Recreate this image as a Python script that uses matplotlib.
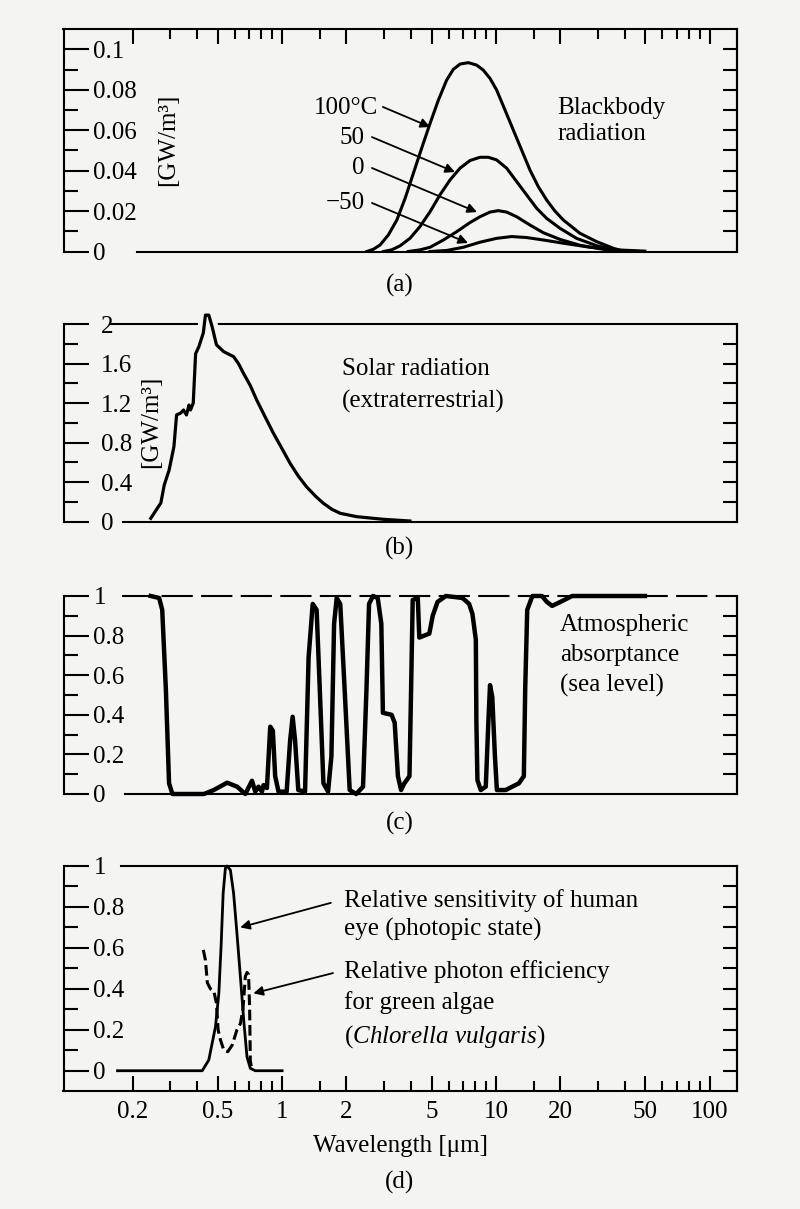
import numpy as np
import matplotlib.pyplot as plt
from matplotlib.ticker import NullFormatter

# values (wavelength in um)
bb_100 = [(2.49, 0), (2.67, 0.0011), (2.87, 0.0032), (3.14, 0.0082), (3.44, 0.0156), (3.76, 0.0263),
          (4.11, 0.0387), (4.49, 0.0510), (4.92, 0.0634), (5.38, 0.0749), (5.88, 0.0848), (6.32, 0.0901),
          (6.79, 0.0927), (7.43, 0.0934), (8.12, 0.0922), (8.73, 0.0897), (9.38, 0.0856), (10.07, 0.0799),
          (11.02, 0.0700), (12.05, 0.0601), (13.18, 0.0502), (14.42, 0.0403), (15.77, 0.0321),
          (17.25, 0.0255), (18.87, 0.0200), (20.64, 0.0156), (24.70, 0.0090), (29.54, 0.0049),
          (35.34, 0.0016), (39.36, 0.0002)]
bb_50 = [(2.98, 0), (3.25, 0.0008), (3.56, 0.0028), (3.96, 0.0065), (4.41, 0.0123), (4.92, 0.0197),
         (5.47, 0.0280), (6.10, 0.0354), (6.79, 0.0412), (7.56, 0.0450), (8.42, 0.0466), (9.21, 0.0466),
         (10.07, 0.0453), (11.22, 0.0412), (12.49, 0.0346), (13.91, 0.0280), (15.49, 0.0214),
         (17.25, 0.0164), (19.91, 0.0115), (23.82, 0.0065), (29.54, 0.0029), (36.64, 0.0005), (39.36, 0)]
bb_0 = [(3.89, 0), (4.41, 0.0008), (4.92, 0.0021), (5.68, 0.0057), (6.55, 0.0098), (7.56, 0.0143),
        (8.42, 0.0172), (9.38, 0.0195), (10.25, 0.0202), (11.22, 0.0195), (12.49, 0.0172), (14.42, 0.0131),
        (16.64, 0.0093), (19.91, 0.0060), (24.70, 0.0031), (31.74, 0.0011), (39.36, 0.0002)]
bb_m50 = [(4.92, 0), (5.88, 0.0005), (7.04, 0.0021), (8.42, 0.0046), (10.07, 0.0065), (11.84, 0.0074),
          (13.91, 0.0069), (16.64, 0.0057), (20.64, 0.0041), (27.50, 0.0021), (36.64, 0.0008), (49.69, 0.0002)]

solar = [(0.243, 0.034), (0.271, 0.19), (0.281, 0.37), (0.296, 0.52), (0.312, 0.76), (0.321, 1.08),
         (0.336, 1.10), (0.346, 1.13), (0.357, 1.08), (0.367, 1.18), (0.373, 1.13), (0.384, 1.20),
         (0.394, 1.70), (0.408, 1.77), (0.428, 1.91), (0.438, 2.09), (0.454, 2.09), (0.471, 1.97),
         (0.493, 1.79), (0.533, 1.72), (0.593, 1.67), (0.625, 1.60), (0.660, 1.50), (0.709, 1.38),
         (0.761, 1.23), (0.833, 1.06), (0.911, 0.894), (0.997, 0.742), (1.09, 0.590), (1.19, 0.462),
         (1.30, 0.354), (1.43, 0.260), (1.56, 0.186), (1.71, 0.125), (1.87, 0.085), (2.23, 0.051),
         (2.98, 0.024), (3.96, 0.007)]

atm = [(0.243, 1.0), (0.266, 0.99), (0.275, 0.93), (0.286, 0.53), (0.296, 0.054), (0.307, 0.0),
       (0.431, 0.0), (0.479, 0.02), (0.553, 0.057), (0.616, 0.037), (0.673, 0.0), (0.723, 0.067),
       (0.749, 0.012), (0.776, 0.037), (0.805, 0.012), (0.819, 0.045), (0.849, 0.03), (0.88, 0.34),
       (0.905, 0.32), (0.928, 0.09), (0.962, 0.012), (1.05, 0.012), (1.09, 0.27), (1.12, 0.39),
       (1.15, 0.27), (1.19, 0.02), (1.28, 0.012), (1.33, 0.69), (1.39, 0.96), (1.45, 0.93),
       (1.50, 0.53), (1.56, 0.054), (1.64, 0.012), (1.70, 0.19), (1.75, 0.86), (1.80, 0.99),
       (1.87, 0.96), (1.96, 0.53), (2.07, 0.02), (2.22, 0.0), (2.39, 0.037), (2.48, 0.53),
       (2.55, 0.96), (2.66, 1.0), (2.80, 0.99), (2.91, 0.86), (2.96, 0.41), (3.25, 0.40),
       (3.36, 0.36), (3.48, 0.09), (3.60, 0.02), (3.73, 0.054), (3.94, 0.09), (4.01, 0.53),
       (4.08, 0.98), (4.31, 0.99), (4.38, 0.79), (4.62, 0.80), (4.88, 0.81), (5.06, 0.90),
       (5.33, 0.97), (5.83, 1.0), (6.97, 0.99), (7.49, 0.96), (7.76, 0.91), (8.05, 0.78),
       (8.10, 0.36), (8.19, 0.07), (8.49, 0.02), (8.96, 0.037), (9.21, 0.36), (9.38, 0.55),
       (9.61, 0.49), (9.89, 0.19), (10.1, 0.02), (11.1, 0.02), (12.8, 0.054), (13.5, 0.09),
       (13.7, 0.53), (14.0, 0.93), (14.8, 1.0), (16.4, 1.0), (17.3, 0.97), (18.3, 0.95),
       (20.0, 0.97), (22.7, 1.0), (49.7, 1.0)]

eye = [(0.17, 0), (0.423, 0), (0.454, 0.052), (0.488, 0.215), (0.506, 0.378), (0.519, 0.622),
       (0.530, 0.867), (0.543, 0.99), (0.553, 1.0), (0.573, 0.98), (0.593, 0.867), (0.615, 0.67),
       (0.638, 0.46), (0.661, 0.25), (0.685, 0.068), (0.710, 0.012), (0.749, 0), (1.0, 0)]
algae = [(0.428, 0.59), (0.438, 0.54), (0.447, 0.43), (0.462, 0.40), (0.479, 0.39), (0.493, 0.33),
         (0.502, 0.20), (0.515, 0.15), (0.534, 0.10), (0.557, 0.093), (0.584, 0.125), (0.615, 0.20),
         (0.638, 0.23), (0.656, 0.30), (0.673, 0.46), (0.685, 0.48), (0.697, 0.47), (0.705, 0.30),
         (0.710, 0.05), (0.723, 0.0)]

wl_major = [0.2, 0.5, 1, 2, 5, 10, 20, 50, 100]
wl_labels = ['0.2', '0.5', '1', '2', '5', '10', '20', '50', '100']
wl_minor = [0.3, 0.4, 0.6, 0.7, 0.8, 0.9, 1.5, 3, 4, 6, 7, 8, 9, 15, 30, 40, 60, 70, 80, 90]

plt.rcParams['font.family'] = ['Liberation Serif', 'DejaVu Serif']
plt.rcParams['mathtext.fontset'] = 'custom'
plt.rcParams['mathtext.rm'] = 'Liberation Serif'
plt.rcParams['mathtext.it'] = 'Liberation Serif:italic'
plt.rcParams['font.size'] = 18

W, H = 800, 1209
bg = '#f4f4f2'
XLIM = (0.095, 134)
fig = plt.figure(figsize=(W / 100, H / 100), dpi=100, facecolor=bg)


def make_axes(top, bottom, left=63.5, right=737):
    ax = fig.add_axes([left / W, 1 - bottom / H, (right - left) / W, (bottom - top) / H])
    ax.set_facecolor(bg)
    ax.set_xscale('log')
    ax.set_xlim(*XLIM)
    for s in ax.spines.values():
        s.set_linewidth(1.5)
    ax.tick_params(axis='x', which='both', bottom=False, top=False, labelbottom=False)
    return ax


def y_ticks(ax, major, labels, minor, right, pad=-21.5):
    ax.set_yticks(major)
    ax.set_yticklabels(labels, ha='left')
    ax.set_yticks(minor, minor=True)
    ax.tick_params(axis='y', which='major', direction='in', length=18, width=1.5, pad=pad)
    ax.tick_params(axis='y', which='minor', direction='in', length=10, width=1.5)
    sec = ax.secondary_yaxis('right')
    sec.set_yticks(right)
    sec.tick_params(direction='in', length=10, width=1.5, labelright=False)
    sec.spines['right'].set_linewidth(1.5)


def x_ticks(ax, where):
    ax.set_xticks(wl_major, wl_labels if where == 'bottom' else [''] * len(wl_major))
    ax.set_xticks(wl_minor, minor=True)
    ax.xaxis.set_minor_formatter(NullFormatter())
    on_top = where == 'top'
    ax.tick_params(axis='x', which='both', direction='in', width=1.5,
                   top=on_top, bottom=not on_top, labeltop=False, labelbottom=not on_top)
    ax.tick_params(axis='x', which='major', length=11, pad=7)
    ax.tick_params(axis='x', which='minor', length=7)


def xy(pts):
    a = np.array(pts)
    return a[:, 0], a[:, 1]


arrow = dict(arrowstyle='-|>', color='k', lw=1.3, mutation_scale=14, shrinkA=0, shrinkB=0)

# (a) blackbody
ax = make_axes(29.3, 251.5)
ax.set_ylim(0, 0.1099)
y_ticks(ax, [0, 0.02, 0.04, 0.06, 0.08, 0.1], ['0', '0.02', '0.04', '0.06', '0.08', '0.1'],
        [0.01, 0.03, 0.05, 0.07, 0.09], [0.01 * i for i in range(1, 11)])
x_ticks(ax, 'top')
ax.spines['bottom'].set_bounds(0.209, XLIM[1])
for pts in (bb_100, bb_50, bb_0, bb_m50):
    ax.plot(*xy(pts), color='k', lw=2.2, solid_joinstyle='round')
ax.text(2.81, 0.071, '100°C', ha='right', va='center')
ax.text(2.44, 0.056, '50', ha='right', va='center')
ax.text(2.44, 0.0413, '0', ha='right', va='center')
ax.text(2.44, 0.024, '\u221250', ha='right', va='center')
ax.annotate('', xy=(4.92, 0.0616), xytext=(2.96, 0.0715), arrowprops=arrow)
ax.annotate('', xy=(6.43, 0.0393), xytext=(2.63, 0.0566), arrowprops=arrow)
ax.annotate('', xy=(8.15, 0.0195), xytext=(2.63, 0.0413), arrowprops=arrow)
ax.annotate('', xy=(7.40, 0.0042), xytext=(2.63, 0.024), arrowprops=arrow)
ax.text(19.3, 0.0645, 'Blackbody\nradiation', ha='left', va='center', linespacing=1.27)
fig.text(168.5 / W, 1 - 140 / H, '[GW/m³]', rotation=90, ha='center', va='center')
fig.text(0.5, 1 - 285 / H, '(a)', ha='center', va='center')

# (b) solar
ax = make_axes(324, 521.7)
ax.set_ylim(0, 2)
y_ticks(ax, [0, 0.4, 0.8, 1.2, 1.6, 2], ['0', '0.4', '0.8', '1.2', '1.6', '2'],
        [0.2, 0.6, 1.0, 1.4, 1.8], [0.2 * i for i in range(1, 10)], pad=-27)
ax.spines['bottom'].set_bounds(0.181, XLIM[1])
ax.spines['top'].set_bounds(0.157, XLIM[1])
sx, sy = xy(solar)
top_part = sy > 1.8
# white gap where the curve pokes through the top frame line
ax.plot(sx[top_part], sy[top_part], color=bg, lw=9, clip_on=False, zorder=2.6)
ax.plot(sx, sy, color='k', lw=2.3, clip_on=False, zorder=3, solid_joinstyle='round')
ax.text(1.90, 1.38, 'Solar radiation\n(extraterrestrial)', ha='left', va='center', linespacing=1.58)
fig.text(151 / W, 1 - 421.5 / H, '[GW/m³]', rotation=90, ha='center', va='center')
fig.text(0.5, 1 - 548 / H, '(b)', ha='center', va='center')

# (c) atmospheric absorptance
ax = make_axes(596, 794)
ax.set_ylim(0, 1)
y_ticks(ax, [0, 0.2, 0.4, 0.6, 0.8, 1], ['0', '0.2', '0.4', '0.6', '0.8', '1'],
        [0.1, 0.3, 0.5, 0.7, 0.9], [0.1 * i for i in range(1, 10)])
ax.spines['bottom'].set_bounds(0.185, XLIM[1])
ax.spines['top'].set_bounds(0.18, XLIM[1])
ax.spines['top'].set_linestyle((0, (14, 5)))
ax.plot(*xy(atm), color='k', lw=3.2, clip_on=False, solid_joinstyle='round')
ax.text(19.9, 0.70, 'Atmospheric\nabsorptance\n(sea level)', ha='left', va='center', linespacing=1.45)
fig.text(0.5, 1 - 823 / H, '(c)', ha='center', va='center')

# (d) eye / algae
ax = make_axes(866, 1091)
ax.set_ylim(-0.099, 1)
y_ticks(ax, [0, 0.2, 0.4, 0.6, 0.8, 1], ['0', '0.2', '0.4', '0.6', '0.8', '1'],
        [0.1, 0.3, 0.5, 0.7, 0.9], [0.1 * i for i in range(0, 10)])
x_ticks(ax, 'bottom')
ax.spines['top'].set_bounds(0.177, XLIM[1])
ax.plot(*xy(eye), color='k', lw=2.0, clip_on=False, solid_joinstyle='round')
ax.plot(*xy(algae), color='k', lw=2.2, ls=(0, (3.5, 1.5)))
ax.annotate('', xy=(0.637, 0.70), xytext=(1.69, 0.82), arrowprops=arrow)
ax.annotate('', xy=(0.734, 0.378), xytext=(1.73, 0.477), arrowprops=arrow)
ax.text(1.95, 0.76, 'Relative sensitivity of human\neye (photopic state)',
        ha='left', va='center', linespacing=1.36)
ax.text(1.95, 0.32, 'Relative photon efficiency\nfor green algae\n($\\mathit{Chlorella\\ vulgaris}$)',
        ha='left', va='center', linespacing=1.45)
ax.set_xlabel('Wavelength [\u03bcm]', labelpad=9)
fig.text(0.5, 1 - 1182 / H, '(d)', ha='center', va='center')

fig.savefig('out.png', dpi=100, facecolor=bg)
